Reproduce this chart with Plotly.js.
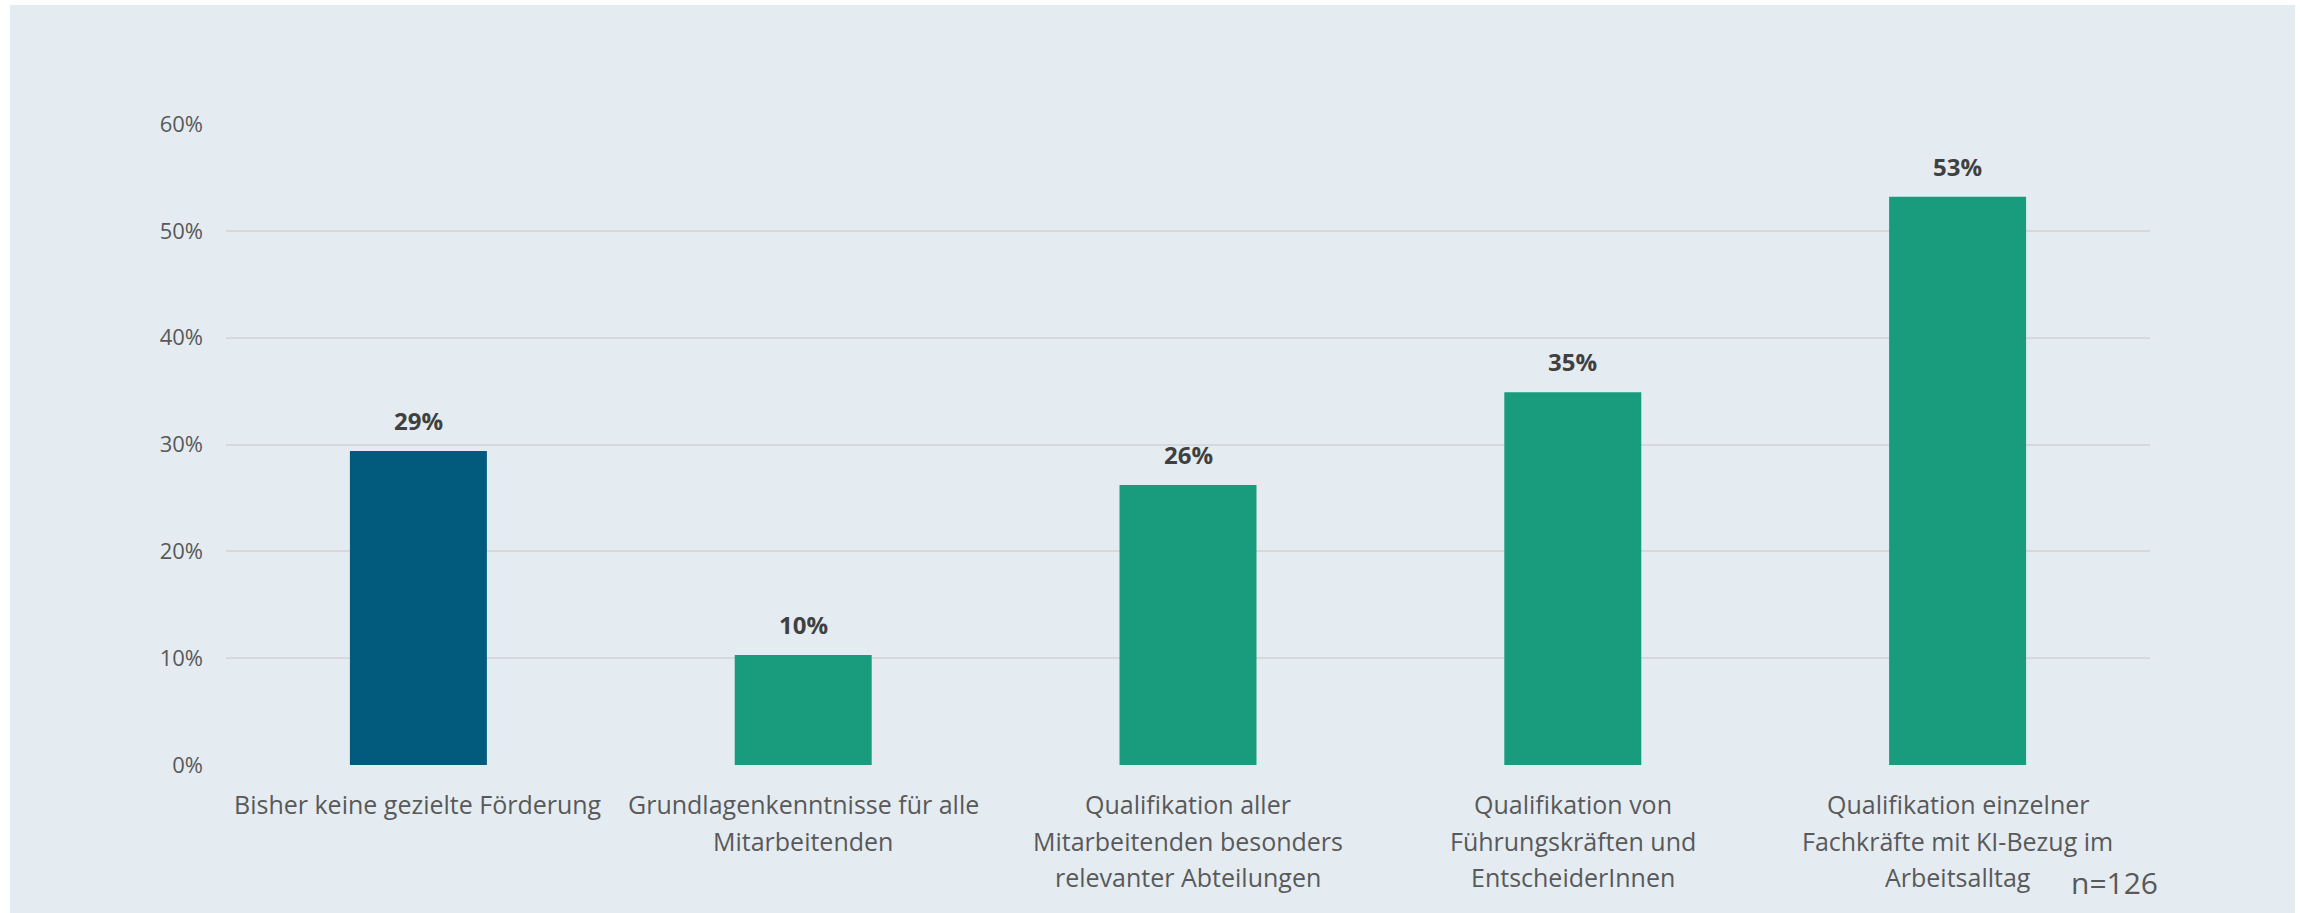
<!DOCTYPE html>
<html>
<head>
<meta charset="utf-8">
<script src="https://cdn.plot.ly/plotly-3.0.1.min.js"></script>
<style>
  html, body { margin: 0; padding: 0; background: #ffffff; }
  #chart { width: 2300px; height: 913px; }
</style>
</head>
<body>
<div id="chart"></div>
<script>
// Data
const categories = [
  "Bisher keine gezielte Förderung",
  "Grundlagenkenntnisse für alle<br>Mitarbeitenden",
  "Qualifikation aller<br>Mitarbeitenden besonders<br>relevanter Abteilungen",
  "Qualifikation von<br>Führungskräften und<br>EntscheiderInnen",
  "Qualifikation einzelner<br>Fachkräfte mit KI-Bezug im<br>Arbeitsalltag"
];
const values = [0.294, 0.103, 0.262, 0.349, 0.532];
const valueLabels = ["29%", "10%", "26%", "35%", "53%"];
const barColors = ["#025B7D", "#199C7D", "#199C7D", "#199C7D", "#199C7D"];
const yTickVals = [0, 0.1, 0.2, 0.3, 0.4, 0.5, 0.6];
const yTickText = ["0%", "10%", "20%", "30%", "40%", "50%", "60%"];
const sampleNote = "n=126";

const FONT = "'Open Sans', 'Noto Sans', sans-serif";

const trace = {
  type: "bar",
  x: categories,
  y: values,
  marker: { color: barColors, line: { width: 0 } },
  hoverinfo: "skip"
};

const annotations = categories.map((c, i) => ({
  x: c, y: values[i], xref: "x", yref: "y",
  text: "<b>" + valueLabels[i] + "</b>",
  showarrow: false, yanchor: "bottom", yshift: 12,
  font: { family: FONT, size: 24, color: "#404040" }
}));

// category labels, one annotation per line for Excel-like line spacing
categories.forEach((c) => {
  c.split("<br>").forEach((line, k) => {
    annotations.push({
      x: c, y: 0, xref: "x", yref: "y",
      text: line, showarrow: false,
      xanchor: "center", yanchor: "middle",
      yshift: -(39 + k * 36.5),
      font: { family: FONT, size: 25, color: "#595959" }
    });
  });
});

annotations.push({
  x: 1.0, y: -0.184, xref: "paper", yref: "paper",
  xanchor: "center", yanchor: "middle", xshift: -36,
  text: sampleNote, showarrow: false,
  font: { family: FONT, size: 30, color: "#595959" }
});

const layout = {
  width: 2300, height: 913,
  paper_bgcolor: "#ffffff",
  plot_bgcolor: "rgba(0,0,0,0)",
  margin: { l: 226, r: 150, t: 124, b: 148, pad: 0 },
  showlegend: false,
  bargap: 0.644,
  font: { family: FONT, color: "#595959" },
  xaxis: {
    type: "category",
    showgrid: false, zeroline: false, showline: false,
    ticks: "", showticklabels: false,
    fixedrange: true
  },
  yaxis: {
    range: [0, 0.6],
    tickvals: yTickVals, ticktext: yTickText,
    showgrid: true, gridcolor: "#D5D9DC", gridwidth: 2,
    zeroline: false, showline: false, ticks: "",
    ticklabelstandoff: 22,
    tickfont: { family: FONT, size: 22, color: "#595959" },
    fixedrange: true
  },
  shapes: [{
    type: "rect", xref: "paper", yref: "paper", layer: "below",
    x0: (10 - 226) / 1924, x1: (2295 - 226) / 1924,
    y0: (765 - 913) / 641, y1: (765 - 5) / 641,
    fillcolor: "#E4ECF2", line: { width: 0 }
  }],
  annotations: annotations
};

Plotly.newPlot("chart", [trace], layout, { displayModeBar: false, staticPlot: true });
</script>
</body>
</html>
